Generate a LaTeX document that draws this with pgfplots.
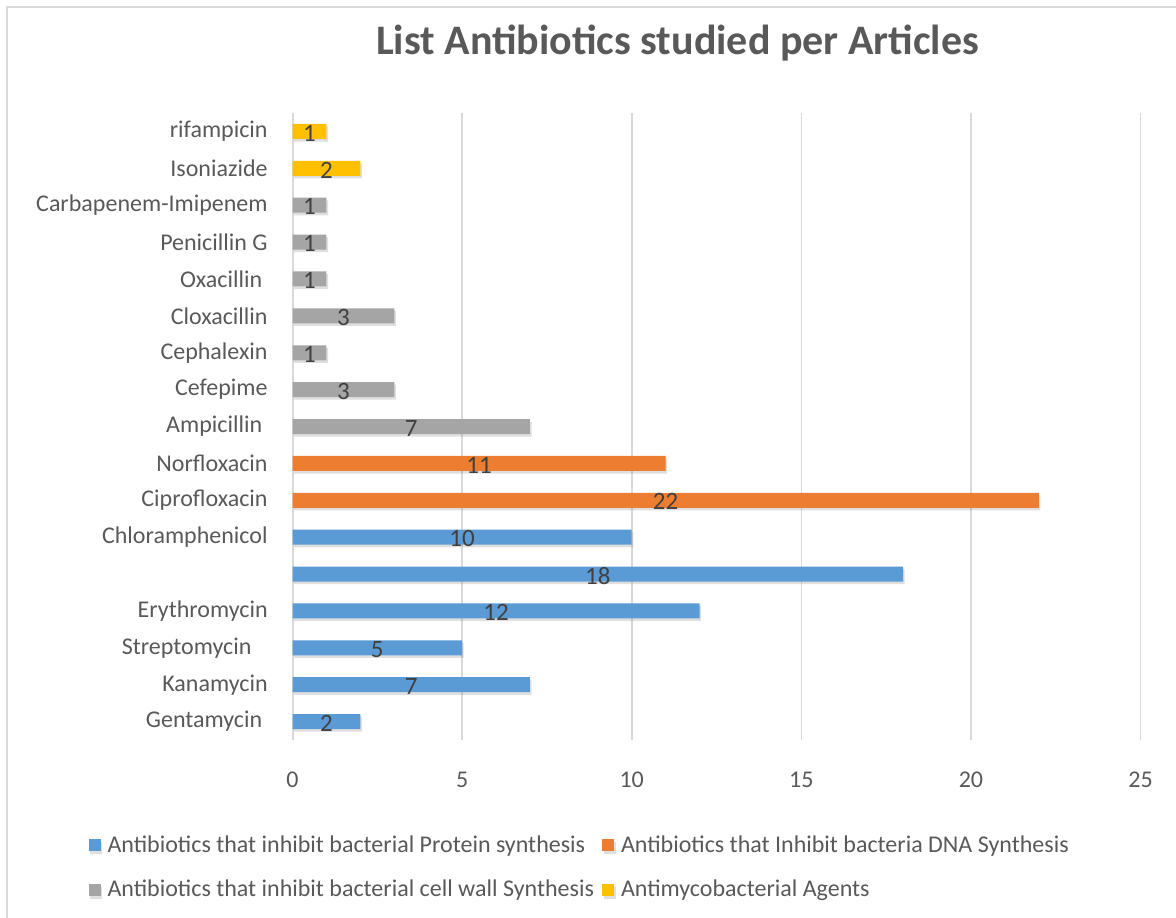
\documentclass[border=0pt]{standalone}
\usepackage{fontspec}
\setmainfont{Carlito}
\usepackage{pgfplots}
\pgfplotsset{compat=1.18}
\usepackage{pgfplotstable}
\usetikzlibrary{shadows}
\definecolor{cblue}{HTML}{5B9BD5}
\definecolor{corange}{HTML}{ED7D31}
\definecolor{cgrey}{HTML}{A5A5A5}
\definecolor{cyellow}{HTML}{FFC000}
\definecolor{ctext}{HTML}{595959}
\definecolor{clabel}{HTML}{404040}
\definecolor{cgrid}{HTML}{D9D9D9}
\pgfplotstableread{
y v
0 2
1 7
2 5
3 12
4 18
5 10
}\protein
\pgfplotstableread{
y v
6 22
7 11
}\dna
\pgfplotstableread{
y v
8 7
9 3
10 1
11 3
12 1
13 1
14 1
}\wall
\pgfplotstableread{
y v
15 2
16 1
}\myco
\begin{document}
\begin{tikzpicture}
\useasboundingbox (0,0) rectangle (588pt,-458.5pt);
\draw[cgrid, line width=1pt] (3.5pt,-470pt) -- (3.5pt,-3.5pt) -- (600pt,-3.5pt);
\node[font=\bfseries\fontsize{21}{25}\selectfont, text=ctext, anchor=base] at (338.75pt,-27pt) {List Antibiotics studied per Articles};
\begin{axis}[
  at={(146.25pt,-370pt)}, anchor=south west,
  width=424pt, height=313.5pt, scale only axis,
  bar width=7.5pt,
  xmin=0, xmax=25, ymin=-0.5, ymax=16.5,
  xtick={0,5,...,25},
  ytick={0,...,16},
  yticklabels={{Gentamycin\kern2.7pt}, Kanamycin, {Streptomycin\kern8.1pt}, Erythromycin, {}, Chloramphenicol, Ciprofloxacin, Norfloxacin, {Ampicillin\kern2.7pt}, Cefepime, Cephalexin, Cloxacillin, {Oxacillin\kern2.7pt}, Penicillin G, Carbapenem-Imipenem, Isoniazide, rifampicin},
  major tick length=0pt,
  axis x line*=bottom, axis y line*=left,
  x axis line style={draw=none},
  y axis line style={draw=cgrid, line width=1pt},
  xmajorgrids, major grid style={draw=cgrid, line width=0.8pt},
  /pgf/number format/assume math mode=true,
  ticklabel style={font=\fontsize{12}{14}\selectfont, text=ctext, inner sep=0pt},
  yticklabel style={xshift=-12.25pt},
  xticklabel style={anchor=north, yshift=-16pt},
  every node near coord/.style={anchor=center, yshift=-0.8pt, font=\fontsize{12.5}{14}\selectfont, text=clabel},
  legend columns=2,
  legend cell align=left,
  legend style={at={(-0.248,-0.139)}, anchor=north west, draw=none, fill=none,
    font=\fontsize{12}{14}\selectfont, text=ctext, row sep=8.5pt, column sep=1.5pt,
    /tikz/every even column/.append style={column sep=2pt}},
]
\addplot[xbar, bar shift=0pt, fill=cblue, draw=none, drop shadow={shadow xshift=0.8pt, shadow yshift=-1.3pt, opacity=0.25},
  legend image code/.code={\fill[cblue] (0pt,-3pt) rectangle (6pt,3pt);}] table[x=v, y=y] {\protein};
\addlegendentry{Antibiotics that inhibit bacterial Protein synthesis}
\addplot[xbar, bar shift=0pt, fill=corange, draw=none, drop shadow={shadow xshift=0.8pt, shadow yshift=-1.3pt, opacity=0.25},
  legend image code/.code={\fill[corange] (0pt,-3pt) rectangle (6pt,3pt);}] table[x=v, y=y] {\dna};
\addlegendentry{Antibiotics that Inhibit bacteria DNA Synthesis}
\addplot[xbar, bar shift=0pt, fill=cgrey, draw=none, drop shadow={shadow xshift=0.8pt, shadow yshift=-1.3pt, opacity=0.25},
  legend image code/.code={\fill[cgrey] (0pt,-3pt) rectangle (6pt,3pt);}] table[x=v, y=y] {\wall};
\addlegendentry{Antibiotics that inhibit bacterial cell wall Synthesis}
\addplot[xbar, bar shift=0pt, fill=cyellow, draw=none, drop shadow={shadow xshift=0.8pt, shadow yshift=-1.3pt, opacity=0.25},
  legend image code/.code={\fill[cyellow] (0pt,-3pt) rectangle (6pt,3pt);}] table[x=v, y=y] {\myco};
\addlegendentry{Antimycobacterial Agents}
\addplot[only marks, mark=none, nodes near coords, point meta=explicit symbolic, forget plot] table[x expr=\thisrow{v}/2, y=y, meta=v] {\protein};
\addplot[only marks, mark=none, nodes near coords, point meta=explicit symbolic, forget plot] table[x expr=\thisrow{v}/2, y=y, meta=v] {\dna};
\addplot[only marks, mark=none, nodes near coords, point meta=explicit symbolic, forget plot] table[x expr=\thisrow{v}/2, y=y, meta=v] {\wall};
\addplot[only marks, mark=none, nodes near coords, point meta=explicit symbolic, forget plot] table[x expr=\thisrow{v}/2, y=y, meta=v] {\myco};
\end{axis}
\end{tikzpicture}
\end{document}
